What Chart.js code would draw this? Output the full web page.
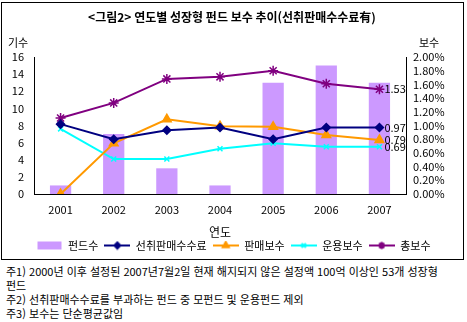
<!DOCTYPE html>
<html lang="ko">
<head>
<meta charset="utf-8">
<script src="https://cdn.jsdelivr.net/npm/chart.js@4.4.1/dist/chart.umd.min.js"></script>
<style>
  body { margin: 0; background: #fff; font-family: "Noto Sans CJK KR", sans-serif; }
  #wrap { position: relative; width: 467px; height: 322px; }
  #notes { position: absolute; left: 6px; top: 264px; font-size: 11px; line-height: 14px; color: #000; white-space: nowrap; }
</style>
</head>
<body>
<div id="wrap">
  <canvas id="chart" width="467" height="262"></canvas>
  <div id="notes">
    주1) 2000년 이후 설정된 2007년7월2일 현재 해지되지 않은 설정액 100억 이상인 53개 성장형<br>
    펀드<br>
    주2) 선취판매수수료를 부과하는 펀드 중 모펀드 및 운용펀드 제외<br>
    주3) 보수는 단순평균값임
  </div>
</div>
<script>
// Years and series
const years = ["2001", "2002", "2003", "2004", "2005", "2006", "2007"];
const fundCount = [1, 7, 3, 1, 13, 15, 13];
const frontLoad = [1.02, 0.80, 0.93, 0.97, 0.80, 0.97, 0.97];
const salesFee = [0.00, 0.74, 1.09, 0.99, 0.98, 0.86, 0.79];
const mgmtFee = [0.95, 0.51, 0.51, 0.66, 0.74, 0.69, 0.69];
const totalFee = [1.11, 1.33, 1.68, 1.71, 1.80, 1.61, 1.53];
const leftTicks = [0, 2, 4, 6, 8, 10, 12, 14, 16];
const rightTicks = [0, 0.2, 0.4, 0.6, 0.8, 1.0, 1.2, 1.4, 1.6, 1.8, 2.0];

const FONT = '"Noto Sans CJK KR", sans-serif';
const BAR = "#CC99FF";

// small swatches for the legend: line with marker in the middle
function swatch(color, style, r) {
  const c = document.createElement("canvas");
  c.width = 26; c.height = 10;
  const ctx = c.getContext("2d");
  if (style === "bar") {
    ctx.fillStyle = BAR;
    ctx.fillRect(1, 1, 24, 8);
    return c;
  }
  ctx.strokeStyle = color;
  ctx.lineWidth = 2;
  ctx.beginPath(); ctx.moveTo(0, 5); ctx.lineTo(26, 5); ctx.stroke();
  Chart.helpers.drawPoint(ctx, { pointStyle: style, radius: r, borderWidth: 1.5, rotation: 0 }, 13, 5);
  ctx.fillStyle = color;
  ctx.fill();
  return c;
}

const lineSet = (label, data, color, style, radius) => ({
  type: "line",
  label,
  data,
  yAxisID: "y1",
  borderColor: color,
  backgroundColor: color,
  borderWidth: 2,
  pointStyle: style,
  pointRadius: radius,
  pointBorderWidth: 1.5,
  tension: 0,
  order: 1
});

// outer frame, title, axis captions and end-of-line values
const decor = {
  id: "decor",
  afterDraw(chart) {
    const ctx = chart.ctx;
    ctx.save();
    ctx.strokeStyle = "#000";
    ctx.lineWidth = 1;
    ctx.strokeRect(1.5, 2.5, 462, 257);
    ctx.fillStyle = "#000";
    ctx.textBaseline = "middle";
    ctx.font = "bold 12px " + FONT;
    ctx.textAlign = "center";
    ctx.fillText("<그림2> 연도별 성장형 펀드 보수 추이(선취판매수수료有)", 232, 17);
    ctx.font = "11px " + FONT;
    ctx.textAlign = "left";
    ctx.fillText("기수", 8, 43);
    ctx.fillText("보수", 419, 43);
    chart.data.datasets.forEach((ds, i) => {
      if (ds.type !== "line") return;
      const meta = chart.getDatasetMeta(i);
      const last = meta.data[meta.data.length - 1];
      const v = ds.data[ds.data.length - 1];
      ctx.fillText(v.toFixed(2), last.x + 5, last.y);
    });
    ctx.restore();
  }
};

new Chart(document.getElementById("chart"), {
  type: "bar",
  data: {
    labels: years,
    datasets: [
      { type: "bar", label: "펀드수", data: fundCount, yAxisID: "y", backgroundColor: BAR,
        barPercentage: 0.4, categoryPercentage: 1, order: 10 },
      lineSet("선취판매수수료", frontLoad, "#000080", "rectRot", 4),
      lineSet("판매보수", salesFee, "#FF9900", "triangle", 5),
      lineSet("운용보수", mgmtFee, "#00FFFF", "crossRot", 3.5),
      lineSet("총보수", totalFee, "#800080", "star", 5)
    ]
  },
  options: {
    responsive: false,
    animation: false,
    layout: { padding: { top: 57, left: 0, right: 0, bottom: 1 } },
    plugins: {
      title: { display: false },
      tooltip: { enabled: false },
      legend: {
        position: "bottom",
        labels: {
          usePointStyle: true,
          pointStyleWidth: 26,
          padding: 6,
          color: "#000",
          font: { family: FONT, size: 11 },
          generateLabels(chart) {
            const styles = [["", "bar", 0], ["#000080", "rectRot", 3], ["#FF9900", "triangle", 3.5], ["#00FFFF", "crossRot", 3], ["#800080", "star", 3.5]];
            return chart.data.datasets.map((ds, i) => ({
              text: ds.label,
              datasetIndex: i,
              pointStyle: swatch(styles[i][0], styles[i][1], styles[i][2]),
              fontColor: "#000",
              lineWidth: 0,
              strokeStyle: "transparent",
              fillStyle: "transparent"
            }));
          }
        }
      }
    },
    scales: {
      x: {
        grid: { display: false, drawTicks: false },
        border: { display: true, color: "#000", dash: [1, 2] },
        ticks: { color: "#000", font: { family: FONT, size: 11 }, padding: 9 },
        title: { display: true, text: "연도", color: "#000", font: { family: FONT, size: 12 }, padding: { top: 3, bottom: -6 } },
        afterFit: s => { s.height = 40; }
      },
      y: {
        position: "left",
        min: 0, max: 16,
        afterBuildTicks: s => { s.ticks = leftTicks.map(v => ({ value: v })); },
        grid: { display: false, drawTicks: false },
        border: { display: true, color: "#000", dash: [1, 2] },
        ticks: { autoSkip: false, color: "#000", font: { family: FONT, size: 11 }, padding: 10 },
        afterFit: s => { s.width = 34; }
      },
      y1: {
        position: "right",
        min: 0, max: 2,
        afterBuildTicks: s => { s.ticks = rightTicks.map(v => ({ value: v })); },
        grid: { display: false, drawTicks: false },
        border: { display: true, color: "#000", dash: [1, 2] },
        ticks: { autoSkip: false, color: "#000", font: { family: FONT, size: 11 }, padding: 7,
          callback: v => v.toFixed(2) + "%" },
        afterFit: s => { s.width = 61; }
      }
    }
  },
  plugins: [decor]
});
</script>
</body>
</html>
